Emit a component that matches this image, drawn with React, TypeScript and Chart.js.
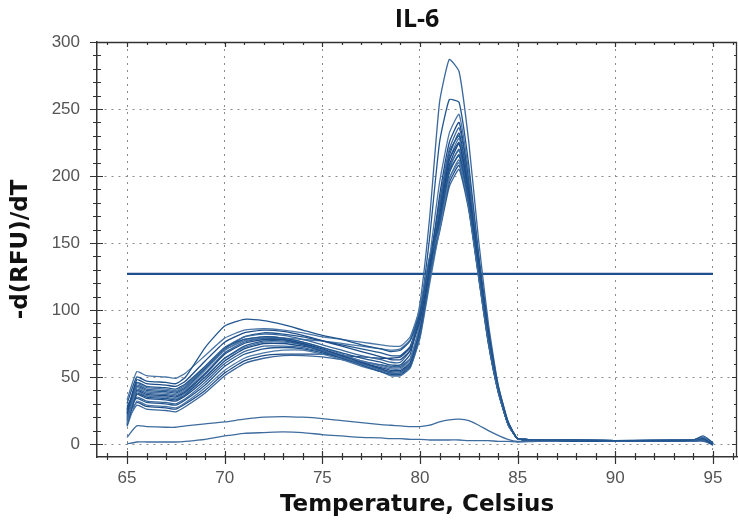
import React, { useEffect, useRef } from "react";
import { Chart, registerables } from "chart.js";

Chart.register(...registerables);

const titleText = "IL-6";
const xAxisTitle = "Temperature, Celsius";
const yAxisTitle = "-d(RFU)/dT";

const xTickValues = [65, 70, 75, 80, 85, 90, 95];
const yTickValues = [0, 50, 100, 150, 200, 250, 300];

const temperatures = [65, 65.5, 66, 67, 67.5, 68, 69, 70, 71, 72, 73, 74, 75, 76, 77, 78, 78.5, 79, 79.5, 80, 80.5, 81, 81.5, 82, 82.5, 83, 83.5, 84, 84.5, 85, 86, 88, 90, 92, 94, 94.5, 95];

const curve01 = [30, 50, 47, 46, 45, 50, 72, 88, 93, 92, 89, 85, 81, 78, 74, 71, 69, 70, 77, 98, 138, 165, 204, 215, 180, 130, 80, 42, 16, 4, 3, 3, 2.5, 2.5, 3, 6, 1];
const curve02 = [33, 54, 51, 50, 49, 53, 66, 79, 85, 86, 85, 83, 80, 78, 76, 74, 73, 73, 80, 102, 140, 160, 198, 210, 176, 126, 78, 40, 15, 4, 3, 3, 2.5, 3, 3, 5, 1];
const curve03 = [22, 48, 45, 44, 43, 47, 62, 76, 83, 85, 84, 81, 77, 73, 69, 65, 63, 63, 70, 92, 132, 170, 212, 225, 188, 136, 84, 42, 16, 4, 3, 2.5, 2.5, 2.5, 3, 4, 0];
const curve04 = [18, 44, 41, 40, 39, 43, 57, 72, 80, 82, 81, 78, 74, 70, 66, 63, 61, 61, 70, 105, 170, 255, 287, 278, 225, 152, 90, 44, 17, 4, 3, 3, 2.5, 2.5, 3, 4, 0];
const curve05 = [25, 46, 43, 42, 41, 45, 58, 72, 78, 80, 79, 76, 72, 68, 64, 61, 59, 59, 67, 98, 155, 225, 257, 255, 208, 142, 86, 44, 17, 4, 3, 2.5, 2.5, 3, 3, 5, 0];
const curve06 = [15, 42, 39, 38, 37, 41, 55, 70, 78, 80, 79, 76, 72, 67, 62, 58, 56, 56, 63, 90, 140, 195, 232, 246, 202, 140, 84, 43, 17, 4, 3, 3, 2.5, 2.5, 3, 4, 0];
const curve07 = [28, 40, 37, 36, 35, 39, 52, 67, 75, 78, 78, 75, 71, 66, 61, 57, 55, 55, 61, 86, 132, 185, 225, 240, 198, 138, 83, 42, 16, 4, 3, 2.5, 2.5, 2.5, 3, 4, 0];
const curve08 = [20, 41, 38, 37, 36, 40, 53, 68, 76, 79, 78, 75, 70, 65, 60, 55, 53, 53, 60, 84, 130, 180, 220, 236, 196, 136, 82, 42, 16, 4, 3, 3, 2.5, 2.5, 3, 3, 0];
const curve09 = [16, 38, 35, 34, 33, 37, 50, 64, 73, 77, 77, 74, 69, 64, 59, 54, 52, 52, 58, 82, 126, 175, 215, 232, 192, 134, 81, 41, 16, 4, 3, 2.5, 2.5, 2.5, 3, 3, -1];
const curve10 = [24, 39, 36, 35, 34, 38, 50, 64, 72, 76, 76, 74, 70, 65, 59, 54, 51, 51, 57, 80, 124, 172, 212, 228, 190, 133, 80, 41, 16, 4, 3, 3, 2.5, 2.5, 3, 3, 0];
const curve11 = [14, 37, 34, 33, 32, 36, 48, 62, 71, 75, 75, 73, 70, 66, 61, 56, 53, 53, 59, 82, 125, 170, 208, 224, 186, 130, 79, 40, 15, 4, 3, 2.5, 2.5, 2.5, 3, 3, 0];
const curve12 = [19, 35, 32, 31, 30, 34, 46, 60, 69, 73, 73, 72, 69, 66, 62, 59, 57, 57, 63, 86, 128, 168, 205, 220, 184, 130, 78, 40, 15, 4, 3, 3, 2.5, 2.5, 3, 3, 0];
const curve13 = [27, 34, 31, 30, 29, 33, 44, 58, 67, 71, 72, 71, 68, 64, 60, 56, 54, 54, 60, 82, 124, 165, 202, 216, 181, 128, 77, 40, 15, 4, 3, 2.5, 2.5, 2.5, 3, 3, 0];
const curve14 = [13, 32, 29, 28, 27, 31, 42, 55, 64, 68, 70, 70, 67, 63, 58, 54, 51, 51, 57, 79, 120, 160, 198, 212, 178, 126, 76, 39, 15, 4, 3, 3, 2.5, 2.5, 3, 3, 0];
const curve15 = [21, 31, 28, 27, 26, 30, 40, 53, 62, 66, 67, 67, 67, 66, 65, 64, 64, 65, 72, 95, 135, 160, 195, 208, 176, 125, 75, 39, 15, 4, 3, 2.5, 2.5, 2.5, 3, 3, 0];
const curve16 = [17, 29, 26, 25, 24, 28, 38, 51, 60, 64, 66, 66, 65, 63, 61, 59, 58, 58, 64, 88, 128, 158, 192, 205, 174, 124, 75, 39, 15, 4, 3, 3, 2.5, 2.5, 3, 3, 0];
const curve17 = [26, 43, 40, 39, 38, 42, 56, 71, 80, 83, 82, 80, 77, 74, 71, 68, 66, 66, 73, 96, 138, 178, 218, 230, 192, 134, 81, 41, 16, 4, 3, 2.5, 2.5, 2.5, 3, 4, 0];
const curve18 = [23, 45, 42, 41, 40, 44, 57, 70, 77, 79, 79, 78, 77, 75, 73, 71, 70, 71, 78, 100, 140, 170, 207, 219, 184, 130, 78, 40, 15, 4, 3, 3, 2.5, 2.5, 3, 4, 1];
const lowCurveA = [5, 13.5, 13, 12.5, 12.5, 13.5, 15, 16.5, 18.5, 20, 20.5, 20, 19, 17.5, 16, 14.5, 14, 13.5, 13, 13, 14, 16.5, 18, 18.5, 17.5, 14, 10, 6.5, 3.5, 2, 2.5, 2.5, 2, 2, 2.5, 3, 0];
const lowCurveB = [0, 1.5, 1.5, 1.5, 1.5, 2, 3.5, 6, 8, 8.5, 9, 8.5, 7, 6, 5, 4.5, 4, 4, 3.5, 3.5, 3, 3, 3, 3, 2.5, 2.5, 2.5, 2, 2, 1.5, 2, 2, 2, 2, 2, 2, 0];

const mainCurves = [curve01, curve02, curve03, curve04, curve05, curve06, curve07, curve08, curve09, curve10, curve11, curve12, curve13, curve14, curve15, curve16, curve17, curve18];
const lowCurves = [lowCurveA, lowCurveB];

const thresholdValue = 127;
const thresholdRange = [65, 95];

const frameTicksPlugin = {
  id: "frameTicks",
  afterDraw(chart: any) {
    const { ctx, chartArea: a, scales } = chart;
    const x = scales.x;
    const y = scales.y;
    ctx.save();
    ctx.strokeStyle = "#333";
    ctx.lineWidth = 1.3;
    ctx.beginPath();
    ctx.moveTo(a.left, a.top + 0.5);
    ctx.lineTo(a.right - 0.5, a.top + 0.5);
    ctx.lineTo(a.right - 0.5, a.bottom);
    ctx.stroke();
    ctx.lineWidth = 1.2;
    for (let t = Math.ceil(x.min); t <= x.max; t += 1) {
      const px = Math.round(x.getPixelForValue(t)) + 0.5;
      const major = t % 5 === 0;
      ctx.beginPath();
      ctx.moveTo(px, a.bottom - (major ? 6 : 4));
      ctx.lineTo(px, a.bottom + (major ? 7 : 3));
      ctx.moveTo(px, a.top);
      ctx.lineTo(px, a.top + (major ? 5 : 3));
      ctx.stroke();
    }
    for (let v = 0; v <= y.max; v += 10) {
      const py = Math.round(y.getPixelForValue(v)) + 0.5;
      const major = v % 50 === 0;
      ctx.beginPath();
      ctx.moveTo(a.left - (major ? 7 : 4), py);
      ctx.lineTo(a.left + (major ? 6 : 4), py);
      ctx.moveTo(a.right, py);
      ctx.lineTo(a.right - (major ? 5 : 3), py);
      ctx.stroke();
    }
    ctx.restore();
  },
};

export default function App() {
  const canvasRef = useRef<HTMLCanvasElement | null>(null);

  useEffect(() => {
    if (!canvasRef.current) return;
    const lineColors = ["#22568f", "#4b76a6", "#1d4c88", "#3a679c"];
    const datasets: any[] = [];
    mainCurves.forEach((c, i) => {
      datasets.push({
        data: temperatures.map((t, j) => ({ x: t, y: c[j] })),
        borderColor: lineColors[i % lineColors.length],
        borderWidth: 1.3,
        pointRadius: 0,
        tension: 0.15,
        fill: false,
      });
    });
    lowCurves.forEach((c) => {
      datasets.push({
        data: temperatures.map((t, j) => ({ x: t, y: c[j] })),
        borderColor: "#3f6c9f",
        borderWidth: 1.3,
        pointRadius: 0,
        tension: 0.2,
        fill: false,
      });
    });
    datasets.push({
      data: thresholdRange.map((t) => ({ x: t, y: thresholdValue })),
      borderColor: "#1f4f8c",
      borderWidth: 2.2,
      pointRadius: 0,
      fill: false,
    });

    const chart = new Chart(canvasRef.current, {
      type: "line",
      data: { datasets },
      plugins: [frameTicksPlugin],
      options: {
        animation: false,
        responsive: false,
        layout: { padding: { left: 0, right: 2, top: 0, bottom: 0 } },
        plugins: {
          legend: { display: false },
          tooltip: { enabled: false },
          title: {
            display: true,
            text: titleText,
            fullSize: false,
            color: "#111",
            font: { family: '"Open Sans"', size: 25, weight: "bold" },
            padding: { top: 5, bottom: 7 },
          },
        },
        scales: {
          x: {
            type: "linear",
            min: 63.464,
            max: 96.229,
            afterBuildTicks: (s: any) => {
              s.ticks = xTickValues.map((v) => ({ value: v }));
            },
            afterFit: (s: any) => {
              s.height = 64;
            },
            grid: { color: "#8c8c8c", lineWidth: 1, drawTicks: false },
            border: { display: true, color: "#333", width: 1.5, dash: [2, 5] },
            ticks: {
              padding: 11,
              color: "#555",
              autoSkip: false,
              maxRotation: 0,
              font: { family: '"Liberation Sans"', size: 17 },
            },
            title: {
              display: true,
              text: xAxisTitle,
              color: "#111",
              font: { family: '"DejaVu Sans"', size: 23, weight: "bold" },
              padding: { top: 0, bottom: 2 },
            },
          },
          y: {
            type: "linear",
            min: -9.7,
            max: 300,
            afterBuildTicks: (s: any) => {
              s.ticks = yTickValues.map((v) => ({ value: v }));
            },
            afterFit: (s: any) => {
              s.width = 97;
            },
            grid: { color: "#8c8c8c", lineWidth: 1, drawTicks: false },
            border: { display: true, color: "#333", width: 1.5, dash: [2, 5] },
            ticks: {
              padding: 17,
              color: "#555",
              autoSkip: false,
              font: { family: '"Liberation Sans"', size: 17 },
            },
            title: {
              display: true,
              text: yAxisTitle,
              color: "#111",
              font: { family: '"DejaVu Sans"', size: 23, weight: "bold" },
              padding: { top: 7, bottom: 0 },
            },
          },
        },
      },
    });
    return () => chart.destroy();
  }, []);

  return (
    <canvas
      ref={canvasRef}
      width={739}
      height={521}
      style={{ position: "absolute", left: 0, top: 0, display: "block" }}
    />
  );
}
